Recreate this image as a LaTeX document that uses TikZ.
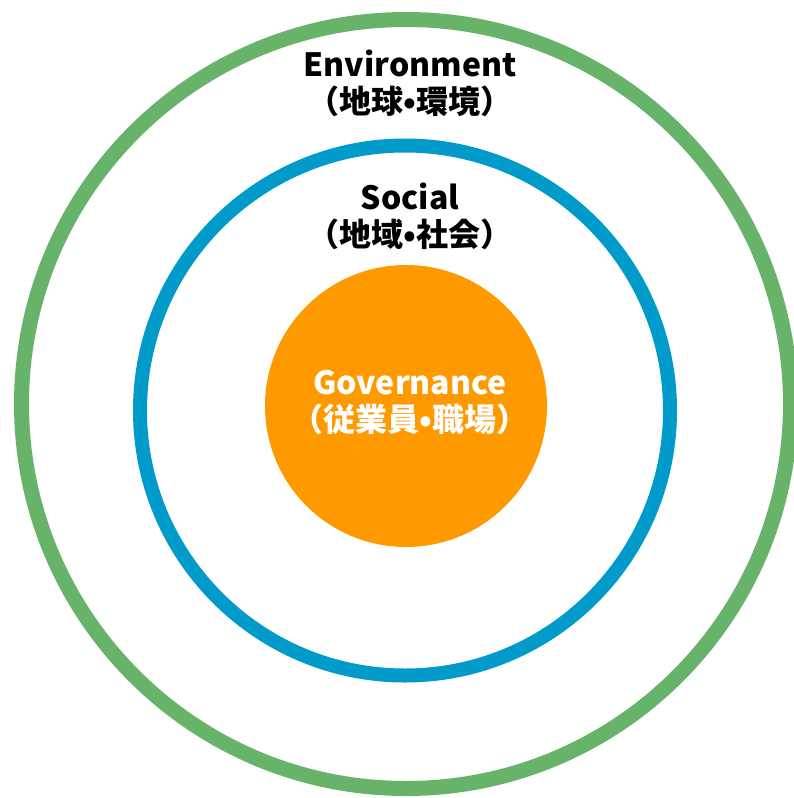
\documentclass[tikz,border=0pt]{standalone}
\usepackage{fontspec}
\setmainfont{Noto Sans CJK JP}
\definecolor{envgreen}{HTML}{68B36A}
\definecolor{socblue}{HTML}{009BCB}
\definecolor{govorange}{HTML}{FE9A00}
\begin{document}
\begin{tikzpicture}[x=1pt, y=-1pt,
			ring/.style = {shape=circle, inner sep=0pt},
			every node/.style = {align=center, font=\bfseries\fontsize{32}{37}\selectfont}]
			\useasboundingbox (0,0) rectangle (794,798);
			\clip (0,0) rectangle (794,798);
			% rings, outer to inner
			\node[ring, draw=envgreen, line width=15pt, minimum size=769pt] (envring) at (406,404) {};
			\node[ring, draw=socblue, line width=14pt, minimum size=530pt] (socring) at (405,410.5) {};
			\node[ring, fill=govorange, minimum size=282pt] (govdisk) at (406,406) {};
			% labels
			\node (env) at (410,83) {Environment\\（地球•環境）};
			\node (soc) at (410,216) {Social\\（地域•社会）};
			\node[text=white] (gov) at (410,403) {Governance\\（従業員•職場）};
		\end{tikzpicture}
\end{document}
